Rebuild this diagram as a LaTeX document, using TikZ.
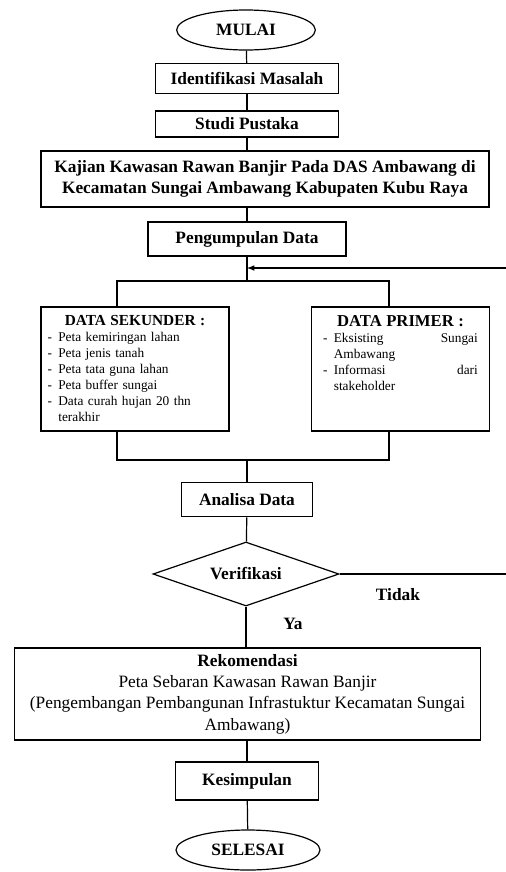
\documentclass[tikz,border=0pt]{standalone}
\usepackage{fontspec}
\setmainfont{Liberation Serif}
\usetikzlibrary{shapes.geometric}
\newcommand\butir[1]{\par\hangindent=.8em\hangafter=1\makebox[.8em][l]{-}#1}
\begin{document}
\begin{tikzpicture}[x=.75pt,y=-.75pt,line width=.9pt,
font=\fontsize{13}{16}\selectfont\bfseries,
proses/.style={draw,rectangle,align=center,inner sep=2pt},
terminal/.style={draw,ellipse,minimum width=104pt,minimum height=30pt,inner sep=1pt},
isi/.style={anchor=north,inner sep=0pt,font=\fontsize{10}{12}\selectfont\mdseries}]
\useasboundingbox (0,0) rectangle (506,872);
\node[terminal] (mulai) at (246,30) {MULAI};
\node[proses,minimum width=137pt,minimum height=22pt] (ident) at (247,78.5) {Identifikasi Masalah};
\node[proses,minimum width=137pt,minimum height=19.5pt] (studi) at (247,124) {Studi Pustaka};
\node[proses,minimum width=336pt,minimum height=42pt] (kajian) at (265,179)
{Kajian Kawasan Rawan Banjir Pada DAS Ambawang di\\Kecamatan Sungai Ambawang Kabupaten Kubu Raya};
\node[proses,minimum width=148.5pt,minimum height=25.5pt] (kumpul) at (247,239) {Pengumpulan Data};
\node[proses,minimum width=141pt,minimum height=93pt] (sekunder) at (135,369) {};
\node[isi,text width=131pt] (sekunderIsi) at ([yshift=-6pt]sekunder.north)
{\hyphenpenalty=10000\raggedright{\centering\fontsize{11.5}{13}\selectfont\bfseries DATA SEKUNDER :\par}
\butir{Peta kemiringan lahan}
\butir{Peta jenis tanah}
\butir{Peta tata guna lahan}
\butir{Peta buffer sungai}
\butir{Data curah hujan 20 thn terakhir}\par};
\node[proses,minimum width=133pt,minimum height=93pt] (primer) at (400.5,369) {};
\node[isi,text width=116pt] (primerIsi) at ([yshift=-6pt]primer.north)
{{\centering\fontsize{12.5}{14}\selectfont\bfseries DATA PRIMER :\par}
\butir{Eksisting \hfill Sungai\newline Ambawang}
\butir{Informasi \hfill dari\newline stakeholder}\par};
\node[proses,minimum width=98pt,minimum height=26pt] (analisa) at (247,499.5) {Analisa Data};
\node[draw,diamond,aspect=2.9,minimum width=139.5pt,minimum height=48pt,inner sep=1pt] (verif) at (246,574) {Verifikasi};
\node[proses,minimum width=350pt,minimum height=69pt] (rekom) at (247.5,694)
{Rekomendasi\\\mdseries Peta Sebaran Kawasan Rawan Banjir\\\mdseries (Pengembangan Pembangunan Infrastuktur Kecamatan Sungai\\\mdseries Ambawang)};
\node[proses,minimum width=107pt,minimum height=28.5pt] (simpul) at (247,781) {Kesimpulan};
\node[terminal,minimum width=108pt] (selesai) at (248,850) {SELESAI};
\node (tidak) at (398,595) {Tidak};
\node (ya) at (293,624) {Ya};
\coordinate (balik) at (247,268);
\coordinate (ujung) at (508,268);
\coordinate (kiri) at (117,281);
\coordinate (kanan) at (389,281);
\coordinate (kiriB) at (117,460);
\coordinate (kananB) at (389,460);
\draw (mulai) -- (ident);
\draw (ident) -- (studi);
\draw (studi) -- (studi |- kajian.north);
\draw (kajian.south -| kumpul) -- (kumpul);
\draw (kumpul) -- (kumpul |- kiri);
\draw (sekunder.north -| kiri) -- (kiri) -- (kanan) -- (primer.north -| kanan);
\draw (sekunder.south -| kiriB) -- (kiriB) -- (kananB) -- (primer.south -| kananB);
\draw (analisa |- kiriB) -- (analisa);
\draw (analisa) -- (verif);
\draw (verif) -- (verif |- rekom.north);
\draw (rekom.south -| simpul) -- (simpul);
\draw (simpul) -- (selesai);
\draw[-latex] (verif.east) -- (verif.east -| ujung) -- (ujung) -- (balik);
\end{tikzpicture}
\end{document}
